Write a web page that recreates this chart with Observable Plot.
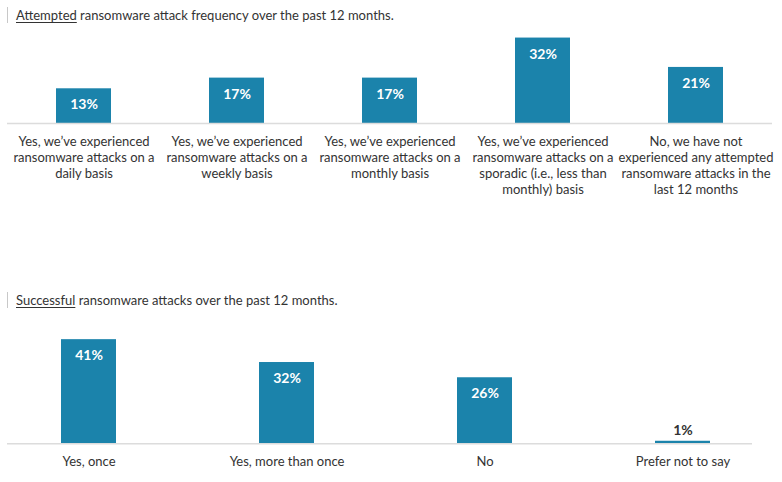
<!DOCTYPE html>
<html>
<head>
<meta charset="utf-8">
<script src="https://cdn.jsdelivr.net/npm/d3@7"></script>
<script src="https://cdn.jsdelivr.net/npm/@observablehq/plot@0.6"></script>
<style>
  html, body { margin: 0; padding: 0; background: #fff; }
  body { width: 782px; height: 482px; position: relative; overflow: hidden; font-family: Lato, sans-serif; color: #333; }
  .title { position: absolute; left: 7px; font-size: 13px; line-height: 16px; padding-left: 8px; border-left: 1px solid #c8c8c8; }
  .title u { text-decoration: underline; text-underline-offset: 2px; }
  .chart { position: absolute; left: 0; }
</style>
</head>
<body>
<div class="title" id="t1" style="top:7px"><u>Attempted</u> ransomware attack frequency over the past 12 months.</div>
<div class="chart" id="c1" style="top:25px"></div>
<div class="title" id="t2" style="top:292px"><u>Successful</u> ransomware attacks over the past 12 months.</div>
<div class="chart" id="c2" style="top:310px"></div>
<script>
const attemptedCategories = [
  "Yes, we’ve experienced\nransomware attacks on a\ndaily basis",
  "Yes, we’ve experienced\nransomware attacks on a\nweekly basis",
  "Yes, we’ve experienced\nransomware attacks on a\nmonthly basis",
  "Yes, we’ve experienced\nransomware attacks on a\nsporadic (i.e., less than\nmonthly) basis",
  "No, we have not\nexperienced any attempted\nransomware attacks in the\nlast 12 months"
];
const attemptedValues = [13, 17, 17, 32, 21];

const successfulCategories = ["Yes, once", "Yes, more than once", "No", "Prefer not to say"];
const successfulValues = [41, 32, 26, 1];

const barColor = "#1b83ab";
const textColor = "#333";

function barChart({categories, values, xRange, padding, baseY, pxPerPct, frameLeft, frameRight, height}) {
  const data = categories.map((c, i) => ({cat: c, value: values[i]}));
  const inside = data.filter(d => d.value >= 5);
  const outside = data.filter(d => d.value < 5);
  const maxV = d3.max(values);
  return Plot.plot({
    width: 782,
    height,
    marginLeft: frameLeft,
    marginRight: 782 - frameRight,
    marginTop: 0,
    marginBottom: 0,
    style: {fontFamily: "Lato, sans-serif", color: textColor, background: "transparent"},
    x: {domain: categories, range: xRange, padding, paddingOuter: padding / 2, axis: null},
    y: {domain: [0, maxV], range: [baseY, baseY - maxV * pxPerPct], axis: null},
    marks: [
      Plot.barY(data, {x: "cat", y: "value", fill: barColor}),
      Plot.ruleY([0], {stroke: "#dcdcdc", strokeWidth: 1.5}),
      Plot.text(inside, {
        x: "cat", y: "value",
        text: d => d.value + "%",
        fill: "#fff", dy: 16,
        fontSize: 14, fontWeight: "bold"
      }),
      Plot.text(outside, {
        x: "cat", y: "value",
        text: d => d.value + "%",
        fill: textColor, dy: -11,
        fontSize: 14, fontWeight: "bold"
      }),
      Plot.text(data, {
        x: "cat", y: () => 0,
        text: "cat",
        dy: 11,
        lineAnchor: "top",
        lineHeight: 16 / 13,
        fontSize: 13,
        fill: textColor
      })
    ]
  });
}

document.getElementById("c1").append(barChart({
  categories: attemptedCategories,
  values: attemptedValues,
  xRange: [7, 772],
  padding: 0.64,
  baseY: 98,
  pxPerPct: 2.67,
  frameLeft: 7,
  frameRight: 772,
  height: 180
}));

document.getElementById("c2").append(barChart({
  categories: successfulCategories,
  values: successfulValues,
  xRange: [-11.85, 782.85],
  padding: 0.723,
  baseY: 133.3,
  pxPerPct: 2.54,
  frameLeft: 7,
  frameRight: 752,
  height: 172
}));
</script>
</body>
</html>
